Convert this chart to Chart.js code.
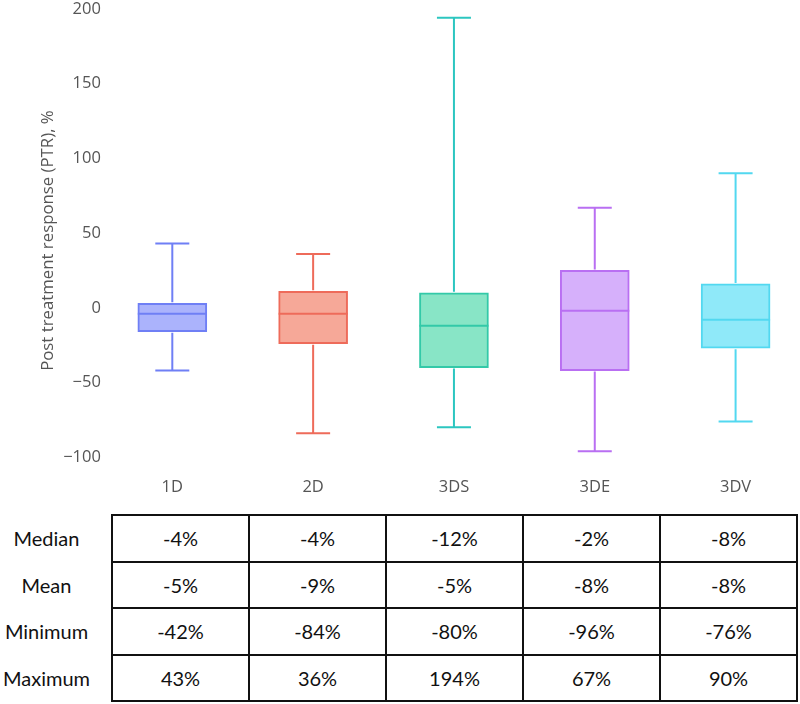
<!DOCTYPE html>
<html>
<head>
<meta charset="utf-8">
<script src="https://cdn.jsdelivr.net/npm/chart.js@4.4.1/dist/chart.umd.min.js"></script>
<style>
  body { margin: 0; background: #fff; width: 800px; height: 704px; overflow: hidden; position: relative; }
  #chart-container { position: absolute; left: 0; top: -2px; width: 806px; height: 510px; }
  #stats { position: absolute; left: 0; top: 514px; border-collapse: collapse; font-family: Lato, "Open Sans", sans-serif; font-size: 20px; color: #111; }
  #stats td { height: 44.5px; padding: 0; text-align: center; }
  #stats td.val { width: 135px; border: 2px solid #111; }
  #stats td.lbl { width: 93px; padding-right: 18px; border: none; }
</style>
</head>
<body>
<div id="chart-container"><canvas id="myChart"></canvas></div>
<table id="stats"></table>
<script>
var categories = ['1D', '2D', '3DS', '3DE', '3DV'];
var q1Values = [-16, -24, -40, -42, -27];
var q3Values = [3, 11, 10, 25, 16];
var medianValues = [-4, -4, -12, -2, -8];
var meanValues = [-5, -9, -5, -8, -8];
var minValues = [-42, -84, -80, -96, -76];
var maxValues = [43, 36, 194, 67, 90];
var yTicks = [-100, -50, 0, 50, 100, 150, 200];

var lineColors = ['#6f7ff5', '#ee6b5a', '#33c9a8', '#b96ff2', '#52d8f0'];
var whiskerColors = ['#6f7ff5', '#ee6b5a', '#2cc6c0', '#b96ff2', '#52d8f0'];
var fillColors = ['#abb3fc', '#f6a898', '#88e5c6', '#d6b0fb', '#8fe9f9'];

// whiskers, caps and median lines drawn through the chart scales
var boxPlugin = {
  id: 'boxWhiskers',
  afterDatasetsDraw: function(chart) {
    var ctx = chart.ctx;
    var xs = chart.scales.x, ys = chart.scales.y;
    var meta = chart.getDatasetMeta(0);
    ctx.save();
    ctx.lineWidth = 2;
    for (var i = 0; i < categories.length; i++) {
      var x = xs.getPixelForValue(i);
      var half = meta.data[i].width / 2;
      var cap = 17;
      ctx.strokeStyle = whiskerColors[i];
      ctx.beginPath();
      ctx.moveTo(x, ys.getPixelForValue(q3Values[i]) - 1);
      ctx.lineTo(x, ys.getPixelForValue(maxValues[i]));
      ctx.moveTo(x - cap, ys.getPixelForValue(maxValues[i]));
      ctx.lineTo(x + cap, ys.getPixelForValue(maxValues[i]));
      ctx.moveTo(x, ys.getPixelForValue(q1Values[i]) + 1);
      ctx.lineTo(x, ys.getPixelForValue(minValues[i]));
      ctx.moveTo(x - cap, ys.getPixelForValue(minValues[i]));
      ctx.lineTo(x + cap, ys.getPixelForValue(minValues[i]));
      ctx.stroke();
      ctx.strokeStyle = lineColors[i];
      ctx.beginPath();
      ctx.moveTo(x - half, ys.getPixelForValue(medianValues[i]));
      ctx.lineTo(x + half, ys.getPixelForValue(medianValues[i]));
      ctx.stroke();
    }
    ctx.restore();
  }
};

var boxes = [];
for (var i = 0; i < categories.length; i++) {
  boxes.push([q1Values[i], q3Values[i]]);
}

var ctx = document.getElementById('myChart').getContext('2d');
var boxChart = new Chart(ctx, {
  type: 'bar',
  data: {
    labels: categories,
    datasets: [{
      data: boxes,
      backgroundColor: fillColors,
      borderColor: lineColors,
      borderWidth: 2,
      borderSkipped: false,
      barThickness: 69
    }]
  },
  options: {
    responsive: true,
    maintainAspectRatio: false,
    animation: false,
    layout: { padding: { left: 38, right: 0, top: 0, bottom: 6 } },
    plugins: { legend: { display: false }, tooltip: { enabled: false } },
    scales: {
      x: {
        grid: { display: false, drawTicks: false },
        border: { display: false },
        ticks: { color: '#555', font: { family: 'Open Sans', size: 16.5 }, padding: 5 }
      },
      y: {
        min: -110,
        max: 200,
        grid: { display: false, drawTicks: false },
        border: { display: false },
        afterBuildTicks: function(axis) {
          axis.ticks = yTicks.map(function(v) { return { value: v }; });
        },
        ticks: {
          color: '#555',
          font: { family: 'Open Sans', size: 16.5 },
          padding: 1,
          callback: function(v) { return v < 0 ? '\u2212' + Math.abs(v) : v; }
        },
        title: {
          display: true,
          text: 'Post treatment response (PTR), %',
          color: '#555',
          font: { family: 'Open Sans', size: 16.8 },
          padding: { top: 0, bottom: 4 }
        }
      }
    }
  },
  plugins: [boxPlugin]
});

// summary table below the chart
var rows = [['Median', medianValues], ['Mean', meanValues], ['Minimum', minValues], ['Maximum', maxValues]];
var html = '';
rows.forEach(function(r) {
  html += '<tr><td class="lbl">' + r[0] + '</td>';
  r[1].forEach(function(v) { html += '<td class="val">' + v + '%</td>'; });
  html += '</tr>';
});
document.getElementById('stats').innerHTML = html;
</script>
</body>
</html>
